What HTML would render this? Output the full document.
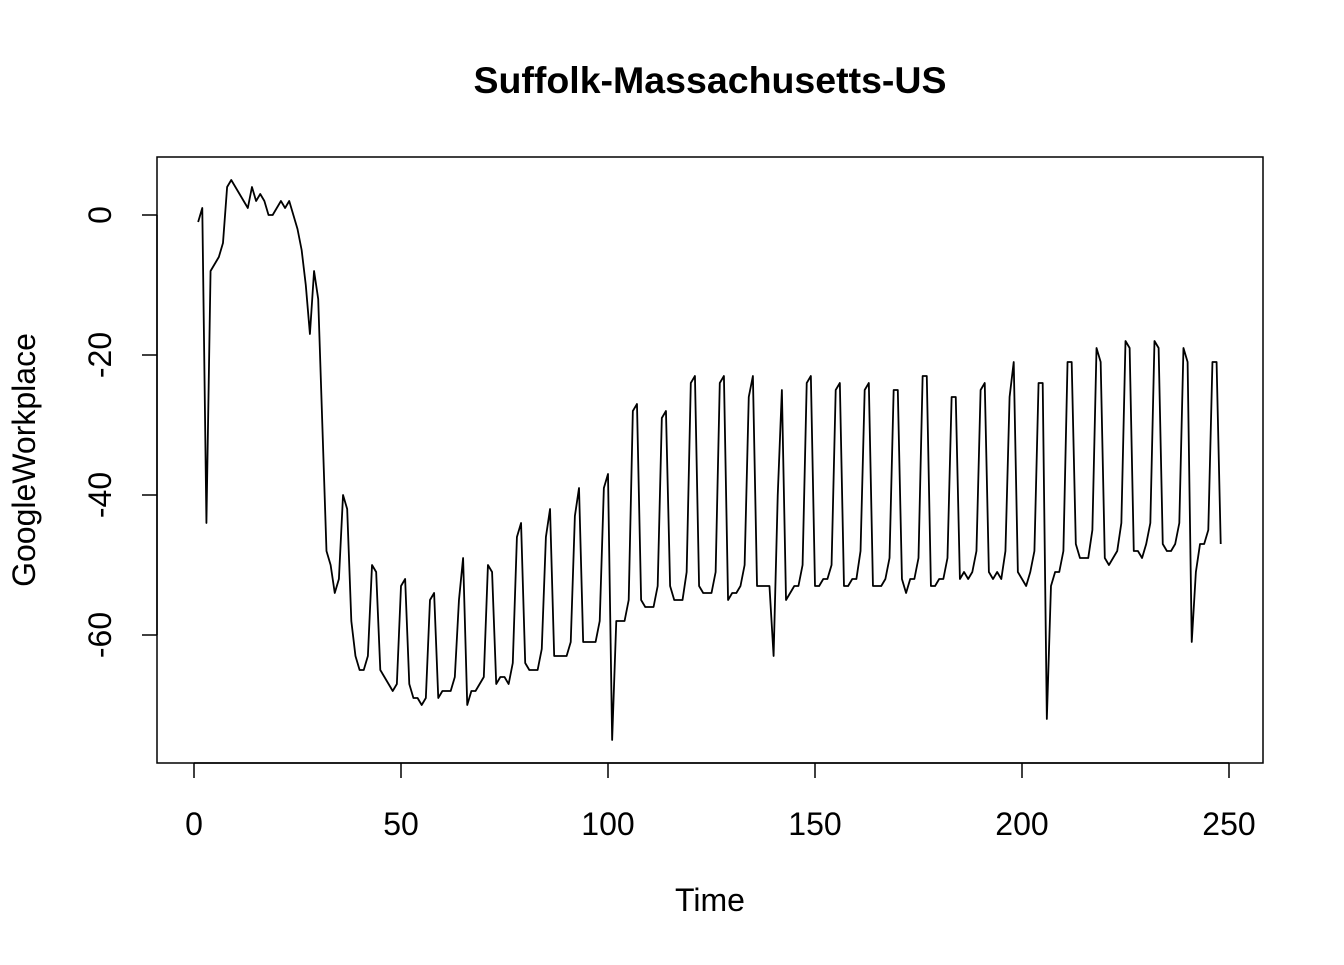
<!DOCTYPE html>
<html><head><meta charset="utf-8"><style>
html,body{margin:0;padding:0;background:#fff;}
svg text{font-family:"Liberation Sans",Arial,sans-serif;fill:#000;}
</style></head><body>
<svg id="chart" width="1344" height="960" viewBox="0 0 1344 960" xmlns="http://www.w3.org/2000/svg">
<rect width="1344" height="960" fill="#fff"/>
<text x="710" y="93" text-anchor="middle" font-size="37.5" font-weight="bold">Suffolk-Massachusetts-US</text>
<rect x="157" y="157" width="1106" height="606" fill="none" stroke="#000" stroke-width="1.5"/>
<g id="xaxis"></g>
<g id="yaxis"></g>
<text x="710" y="911" text-anchor="middle" font-size="32">Time</text>
<text transform="translate(35,460) rotate(-90)" text-anchor="middle" font-size="32">GoogleWorkplace</text>
<path id="series" fill="none" stroke="#000" stroke-width="1.8" stroke-linejoin="round"/>
</svg>
<script>
const values = [-1,1,-44,-8,-7,-6,-4,4,5,4,3,2,1,4,2,3,2,0,0,1,2,1,2,0,-2,-5,-10,-17,-8,-12,-30,-48,-50,-54,-52,-40,-42,-58,-63,-65,-65,-63,-50,-51,-65,-66,-67,-68,-67,-53,-52,-67,-69,-69,-70,-69,-55,-54,-69,-68,-68,-68,-66,-55,-49,-70,-68,-68,-67,-66,-50,-51,-67,-66,-66,-67,-64,-46,-44,-64,-65,-65,-65,-62,-46,-42,-63,-63,-63,-63,-61,-43,-39,-61,-61,-61,-61,-58,-39,-37,-75,-58,-58,-58,-55,-28,-27,-55,-56,-56,-56,-53,-29,-28,-53,-55,-55,-55,-51,-24,-23,-53,-54,-54,-54,-51,-24,-23,-55,-54,-54,-53,-50,-26,-23,-53,-53,-53,-53,-63,-40,-25,-55,-54,-53,-53,-50,-24,-23,-53,-53,-52,-52,-50,-25,-24,-53,-53,-52,-52,-48,-25,-24,-53,-53,-53,-52,-49,-25,-25,-52,-54,-52,-52,-49,-23,-23,-53,-53,-52,-52,-49,-26,-26,-52,-51,-52,-51,-48,-25,-24,-51,-52,-51,-52,-48,-26,-21,-51,-52,-53,-51,-48,-24,-24,-72,-53,-51,-51,-48,-21,-21,-47,-49,-49,-49,-45,-19,-21,-49,-50,-49,-48,-44,-18,-19,-48,-48,-49,-47,-44,-18,-19,-47,-48,-48,-47,-44,-19,-21,-61,-51,-47,-47,-45,-21,-21,-47];
const xTicks = [0,50,100,150,200,250];
const yTicks = [0,-20,-40,-60];
const xs = t => 194 + (t/250)*(1229-194);
const ys = v => 215 + (-v/20)*140;
const ns = "http://www.w3.org/2000/svg";
let d = "";
values.forEach((v,i)=>{ d += (i?"L":"M") + xs(i+1).toFixed(2) + "," + ys(v).toFixed(2); });
document.getElementById("series").setAttribute("d", d);
const xa = document.getElementById("xaxis");
const xl = document.createElementNS(ns,"line");
xl.setAttribute("x1",xs(xTicks[0]));xl.setAttribute("x2",xs(xTicks[xTicks.length-1]));
xl.setAttribute("y1",763);xl.setAttribute("y2",763);xl.setAttribute("stroke","#000");xl.setAttribute("stroke-width","1.5");


xa.appendChild(xl);
xTicks.forEach(t=>{
  const l=document.createElementNS(ns,"line");
  l.setAttribute("x1",xs(t));l.setAttribute("x2",xs(t));l.setAttribute("y1",763);l.setAttribute("y2",778);
  l.setAttribute("stroke","#000");l.setAttribute("stroke-width","1.5");
  
  
  xa.appendChild(l);
  const tx=document.createElementNS(ns,"text");
  tx.setAttribute("x",xs(t));tx.setAttribute("y",835);tx.setAttribute("text-anchor","middle");tx.setAttribute("font-size","32");
  tx.textContent=t;
  
  
  xa.appendChild(tx);
});
const ya = document.getElementById("yaxis");
const yl = document.createElementNS(ns,"line");
yl.setAttribute("x1",157);yl.setAttribute("x2",157);
yl.setAttribute("y1",ys(yTicks[0]));yl.setAttribute("y2",ys(yTicks[yTicks.length-1]));yl.setAttribute("stroke","#000");yl.setAttribute("stroke-width","1.5");


ya.appendChild(yl);
yTicks.forEach(v=>{
  const l=document.createElementNS(ns,"line");
  l.setAttribute("x1",142);l.setAttribute("x2",157);l.setAttribute("y1",ys(v));l.setAttribute("y2",ys(v));
  l.setAttribute("stroke","#000");l.setAttribute("stroke-width","1.5");
  
  
  ya.appendChild(l);
  const tx=document.createElementNS(ns,"text");
  tx.setAttribute("transform","translate(111,"+ys(v)+") rotate(-90)");
  tx.setAttribute("text-anchor","middle");tx.setAttribute("font-size","32");
  tx.textContent=v;
  
  
  ya.appendChild(tx);
});
</script>
</body></html>
